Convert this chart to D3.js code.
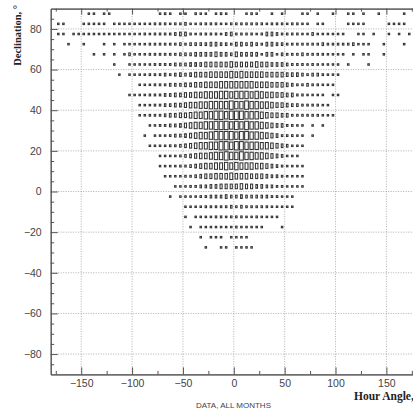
<!DOCTYPE html>
<html>
<head>
<meta charset="utf-8">
<script src="https://cdn.jsdelivr.net/npm/d3@7"></script>
<style>
  body { margin: 0; background: #fff; }
</style>
</head>
<body>
<div id="chart"></div>
<script>
// declination bin centres (deg), top row first
const declination = [87.5, 82.5, 77.5, 72.5, 67.5, 62.5, 57.5, 52.5, 47.5, 42.5, 37.5, 32.5,
    27.5, 22.5, 17.5, 12.5, 7.5, 2.5, -2.5, -7.5, -12.5, -17.5, -22.5, -27.5];

// hour angle bins: 5 deg wide from -180 to 180 (72 bins)
const haBinWidth = 5;
const haStart = -180;

// counts per cell, one row per declination bin, 72 hour angle bins each
const counts = [
    [0,0,0,0,0,0,0,1,1,0,1,1, 0,0,0,0,0,0,0,0,0,1,2,1, 0,1,1,0,2,1,1,0,1,2,1,0, 0,0,1,2,1,0,0,1,0,1,0,0, 0,1,1,0,1,0,0,1,0,0,1,1, 0,1,0,0,1,0,0,0,0,1,0,0],
    [0,1,1,0,0,0,1,1,1,1,1,0, 1,1,1,1,1,1,1,1,2,2,2,1, 2,2,3,1,1,2,2,2,2,1,1,2, 2,2,2,2,2,2,1,2,2,2,1,2, 2,1,1,0,1,1,0,0,0,0,1,1, 1,1,0,0,0,0,1,1,1,1,0,0],
    [0,1,1,0,1,1,1,1,1,1,1,1, 1,1,1,1,1,1,2,1,2,2,2,2, 3,4,4,2,1,2,2,2,2,1,3,4, 2,2,2,2,1,2,4,4,3,2,2,2, 2,1,1,3,1,1,1,1,1,1,0,0, 1,1,0,1,0,0,1,0,1,0,1,0],
    [0,0,0,1,0,0,1,0,0,0,1,0, 1,0,1,1,1,1,1,2,2,2,2,2, 2,3,2,3,3,3,3,4,4,3,3,2, 4,4,3,4,3,2,4,4,3,3,2,2, 2,2,2,2,2,3,2,2,2,2,2,3, 1,1,1,0,0,1,0,0,0,1,0,0],
    [0,0,0,0,0,0,0,0,1,0,1,0, 1,0,1,3,1,1,1,2,2,2,2,2, 2,3,3,3,4,4,4,4,5,4,4,3, 5,4,4,4,4,1,4,4,1,3,2,2, 2,3,2,2,2,2,1,1,1,1,0,1, 0,1,1,0,0,1,0,0,0,0,0,0],
    [0,0,0,0,0,0,0,0,0,0,0,0, 1,0,0,1,1,1,1,1,2,2,2,2, 3,3,3,4,4,4,5,5,5,5,5,6, 5,5,5,5,6,5,5,4,4,4,3,2, 2,2,1,2,1,1,1,1,1,0,1,0, 0,0,1,0,0,0,0,0,0,0,0,0],
    [0,0,0,0,0,0,0,0,0,0,0,0, 0,1,0,1,1,1,1,2,2,2,3,2, 3,4,3,4,5,5,5,6,6,6,6,7, 6,7,6,6,6,6,5,5,5,5,4,4, 4,3,2,3,3,2,1,1,1,0,0,0, 0,0,0,0,0,0,0,0,0,0,0,0],
    [0,0,0,0,0,0,0,0,0,0,0,0, 0,0,0,0,0,1,1,1,2,2,2,3, 3,3,4,4,5,5,6,6,6,7,7,7, 7,7,7,7,6,6,6,5,5,5,4,3, 2,2,3,2,2,1,1,1,0,0,0,0, 0,0,0,0,0,0,0,0,0,0,0,0],
    [0,0,0,0,0,0,0,0,0,0,0,0, 0,0,0,1,1,1,1,2,2,2,3,3, 4,4,5,5,6,6,7,7,7,8,8,7, 8,8,8,7,8,7,6,6,5,5,4,4, 2,2,1,1,1,1,0,1,1,0,0,0, 0,0,0,0,0,0,0,0,0,0,0,0],
    [0,0,0,0,0,0,0,0,0,0,0,0, 0,0,0,0,0,1,1,1,2,2,3,3, 4,4,5,6,6,7,7,8,8,8,8,9, 8,8,9,8,8,7,7,6,5,5,4,3, 3,2,2,2,2,1,1,0,0,0,0,0, 0,0,0,0,0,0,0,0,0,0,0,0],
    [0,0,0,0,0,0,0,0,0,0,0,0, 0,0,0,0,0,1,1,2,2,2,3,4, 4,5,5,6,7,7,8,8,9,9,8,9, 9,9,8,8,8,7,6,5,5,4,4,2, 2,2,2,2,2,1,1,1,0,0,0,0, 0,0,0,0,0,0,0,0,0,0,0,0],
    [0,0,0,0,0,0,0,0,0,0,0,0, 0,0,0,0,0,0,0,1,1,2,2,3, 3,4,5,6,7,7,8,8,9,9,9,8, 9,8,9,8,8,7,6,5,4,4,2,2, 1,1,0,1,0,1,0,0,0,0,0,0, 0,0,0,0,0,0,0,0,0,0,0,0],
    [0,0,0,0,0,0,0,0,0,0,0,0, 0,0,0,0,0,0,1,0,1,1,1,2, 3,3,4,5,6,7,7,8,9,9,9,9, 8,9,9,8,8,7,6,5,4,2,2,2, 1,1,0,1,0,0,0,0,0,0,0,0, 0,0,0,0,0,0,0,0,0,0,0,0],
    [0,0,0,0,0,0,0,0,0,0,0,0, 0,0,0,0,0,0,0,1,1,1,1,2, 2,3,4,5,6,7,7,8,8,9,9,8, 9,9,8,8,8,7,7,6,5,4,3,1, 1,1,0,0,0,0,0,0,0,0,0,0, 0,0,0,0,0,0,0,0,0,0,0,0],
    [0,0,0,0,0,0,0,0,0,0,0,0, 0,0,0,0,0,0,0,0,0,1,1,1, 1,2,3,4,5,6,6,7,8,8,9,8, 8,9,8,8,7,7,6,5,4,3,1,1, 1,0,0,0,0,0,0,0,0,0,0,0, 0,0,0,0,0,0,0,0,0,0,0,0],
    [0,0,0,0,0,0,0,0,0,0,0,0, 0,0,0,0,0,0,0,0,0,1,1,1, 1,2,2,3,4,5,6,6,7,7,8,7, 8,7,7,7,6,6,5,4,3,2,1,1, 1,1,0,0,0,0,0,0,0,0,0,0, 0,0,0,0,0,0,0,0,0,0,0,0],
    [0,0,0,0,0,0,0,0,0,0,0,0, 0,0,0,0,0,0,0,0,0,0,1,1, 1,1,2,2,3,4,5,5,6,6,6,7, 6,6,6,5,5,5,4,3,3,2,1,1, 1,1,0,0,0,0,0,0,0,0,0,0, 0,0,0,0,0,0,0,0,0,0,0,0],
    [0,0,0,0,0,0,0,0,0,0,0,0, 0,0,0,0,0,0,0,0,0,0,0,0, 1,1,1,2,2,3,3,4,4,5,5,5, 5,6,5,5,4,4,3,3,2,2,1,1, 1,1,0,0,0,0,0,0,0,0,0,0, 0,0,0,0,0,0,0,0,0,0,0,0],
    [0,0,0,0,0,0,0,0,0,0,0,0, 0,0,0,0,0,0,0,0,0,0,0,1, 0,1,1,1,1,2,2,3,3,3,4,3, 3,4,3,3,3,3,3,2,2,1,1,1, 0,0,0,0,0,0,0,0,0,0,0,0, 0,0,0,0,0,0,0,0,0,0,0,0],
    [0,0,0,0,0,0,0,0,0,0,0,0, 0,0,0,0,0,0,0,0,0,0,0,0, 0,0,1,1,1,1,2,2,2,2,2,3, 2,3,2,2,2,2,2,1,1,1,1,1, 0,0,0,0,0,0,0,0,0,0,0,0, 0,0,0,0,0,0,0,0,0,0,0,0],
    [0,0,0,0,0,0,0,0,0,0,0,0, 0,0,0,0,0,0,0,0,0,0,0,0, 0,0,1,0,1,1,1,1,2,2,1,2, 2,2,1,1,2,1,1,1,1,0,0,0, 0,0,0,0,0,0,0,0,0,0,0,0, 0,0,0,0,0,0,0,0,0,0,0,0],
    [0,0,0,0,0,0,0,0,0,0,0,0, 0,0,0,0,0,0,0,0,0,0,0,0, 0,0,0,1,0,1,1,1,1,1,1,1, 2,1,1,1,1,1,0,0,0,1,0,0, 0,0,0,0,0,0,0,0,0,0,0,0, 0,0,0,0,0,0,0,0,0,0,0,0],
    [0,0,0,0,0,0,0,0,0,0,0,0, 0,0,0,0,0,0,0,0,0,0,0,0, 0,0,0,0,0,1,0,1,1,1,0,1, 1,1,1,0,0,0,0,0,0,0,0,0, 0,0,0,0,0,0,0,0,0,0,0,0, 0,0,0,0,0,0,0,0,0,0,0,0],
    [0,0,0,0,0,0,0,0,0,0,0,0, 0,0,0,0,0,0,0,0,0,0,0,0, 0,0,0,0,0,0,1,0,0,1,1,0, 1,1,1,1,0,0,0,0,0,0,0,0, 0,0,0,0,0,0,0,0,0,0,0,0, 0,0,0,0,0,0,0,0,0,0,0,0]
];

const xMajor = [-150, -100, -50, 0, 50, 100, 150];
const xMinor = [-175, -125, -75, -25, 25, 75, 125, 175];
const yMajor = [-80, -60, -40, -20, 0, 20, 40, 60, 80];
const yMinor = [-85, -75, -70, -65, -55, -50, -45, -35, -30, -25, -15, -10, -5,
    5, 10, 15, 25, 30, 35, 45, 50, 55, 65, 70, 75, 85];

const width = 413, height = 413;
const frame = { left: 50.7, right: 416.9, top: 8.6, bottom: 374.4 };

const x = d3.scaleLinear().domain([-180, 180]).range([frame.left, frame.right]);
const y = d3.scaleLinear().domain([-90, 90]).range([frame.bottom, frame.top]);

const svg = d3.select("#chart").append("svg")
    .attr("width", width)
    .attr("height", height)
    .style("font-family", "'Liberation Sans', Arial, sans-serif");

// dotted grid
svg.append("g").selectAll("line.gx")
    .data(xMajor).enter().append("line")
    .attr("x1", d => x(d)).attr("x2", d => x(d))
    .attr("y1", frame.top).attr("y2", frame.bottom)
    .attr("stroke", "#9a9a9a").attr("stroke-width", 0.8)
    .attr("stroke-dasharray", "1,1.5");

svg.append("g").selectAll("line.gy")
    .data(yMajor).enter().append("line")
    .attr("x1", frame.left).attr("x2", frame.right)
    .attr("y1", d => y(d)).attr("y2", d => y(d))
    .attr("stroke", "#9a9a9a").attr("stroke-width", 0.8)
    .attr("stroke-dasharray", "1,1.5");

// boxes (ROOT "box" style: outline scaled with the cell content)
const maxCount = d3.max(counts.flat());
const cellW = x(haBinWidth) - x(0);
const cellH = y(0) - y(5);
const size = d3.scaleLinear().domain([0, maxCount]).range([0, 1]);
const boxW = v => Math.max(1.5, 0.74 * cellW * size(v));
const boxH = v => Math.max(1.5, 0.82 * cellH * size(v));

const cells = [];
counts.forEach((row, i) => {
    row.forEach((v, j) => {
        if (v > 0) cells.push({ dec: declination[i], ha: haStart + haBinWidth * (j + 0.5), v });
    });
});

svg.append("g").selectAll("rect")
    .data(cells).enter().append("rect")
    .attr("x", d => x(d.ha) - boxW(d.v) / 2)
    .attr("y", d => y(d.dec) - boxH(d.v) / 2)
    .attr("width", d => boxW(d.v))
    .attr("height", d => boxH(d.v))
    .attr("fill", "none")
    .attr("stroke", "#333")
    .attr("stroke-width", 1.05);

// axes
function styleAxis(g) {
    g.select(".domain").attr("stroke", "#555").attr("stroke-width", 1);
    g.selectAll(".tick line").attr("stroke", "#555").attr("stroke-width", 1);
    g.selectAll(".tick text").attr("fill", "#444").style("font-size", "10.5px");
}

svg.append("g")
    .attr("transform", `translate(0,${frame.bottom})`)
    .call(d3.axisBottom(x).tickValues(xMajor).tickSize(-7).tickPadding(5).tickSizeOuter(0))
    .call(styleAxis);
svg.append("g")
    .attr("transform", `translate(0,${frame.bottom})`)
    .call(d3.axisBottom(x).tickValues(xMinor).tickSize(-3.5).tickFormat("").tickSizeOuter(0))
    .call(styleAxis);

svg.append("g")
    .attr("transform", `translate(0,${frame.top})`)
    .call(d3.axisTop(x).tickValues(xMajor).tickSize(-6).tickFormat("").tickSizeOuter(0))
    .call(styleAxis);
svg.append("g")
    .attr("transform", `translate(0,${frame.top})`)
    .call(d3.axisTop(x).tickValues(xMinor).tickSize(-3).tickFormat("").tickSizeOuter(0))
    .call(styleAxis);

svg.append("g")
    .attr("transform", `translate(${frame.left},0)`)
    .call(d3.axisLeft(y).tickValues(yMajor).tickSize(-7).tickPadding(9).tickSizeOuter(0))
    .call(styleAxis);
svg.append("g")
    .attr("transform", `translate(${frame.left},0)`)
    .call(d3.axisLeft(y).tickValues(yMinor).tickSize(-3.5).tickFormat("").tickSizeOuter(0))
    .call(styleAxis);

// titles
svg.append("text")
    .attr("x", 354).attr("y", 400)
    .style("font-family", "'Liberation Serif', 'Times New Roman', serif")
    .style("font-weight", "bold")
    .style("font-size", "11.5px")
    .attr("fill", "#222")
    .text("Hour Angle, °");

svg.append("text")
    .attr("transform", "translate(21,5) rotate(-90)")
    .attr("text-anchor", "end")
    .style("font-family", "'Liberation Serif', 'Times New Roman', serif")
    .style("font-weight", "bold")
    .style("font-size", "10.5px")
    .attr("fill", "#222")
    .text("Declination, °");

svg.append("text")
    .attr("x", 233.5).attr("y", 408)
    .attr("text-anchor", "middle")
    .style("font-size", "8px")
    .attr("fill", "#444")
    .text("DATA, ALL MONTHS");
</script>
</body>
</html>
